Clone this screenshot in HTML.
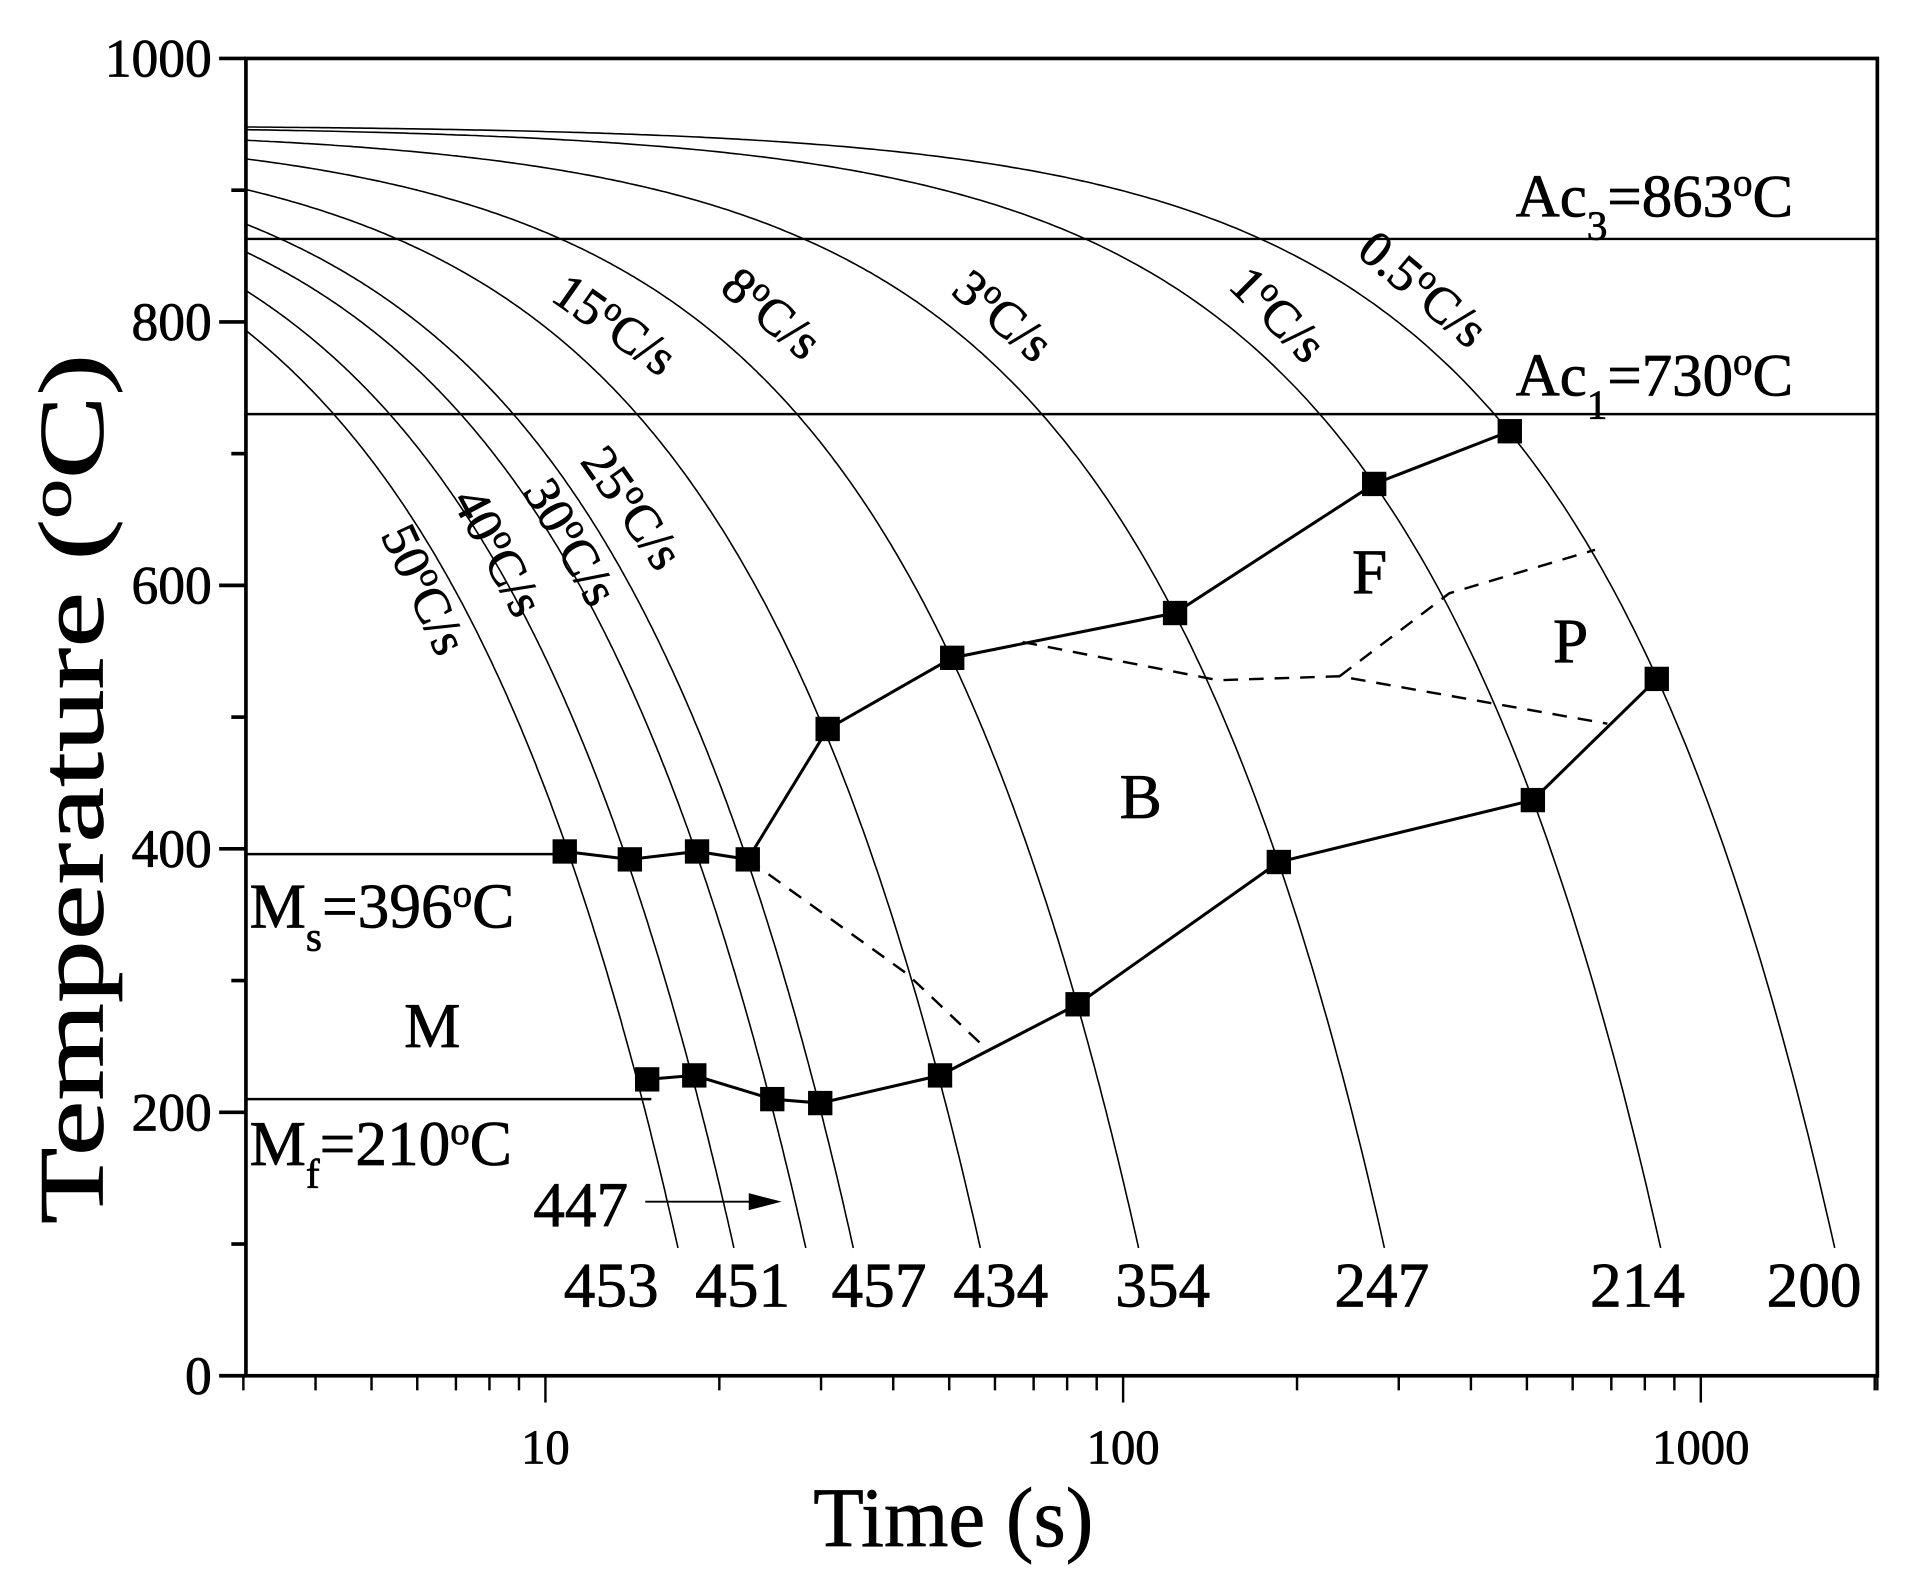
<!DOCTYPE html>
<html><head><meta charset="utf-8"><style>
html,body{margin:0;padding:0;background:#fff}
svg{display:block}
text{font-family:"Liberation Serif",serif;fill:#000;stroke:#000;stroke-width:0.6}
</style></head><body>
<svg id="chart" width="1909" height="1587" viewBox="0 0 1568 1303.5" xmlns="http://www.w3.org/2000/svg">
<g id="g"></g>
</svg>
<script>
const rates = [0.5, 1, 3, 8, 15, 25, 30, 40, 50];
const startTemps = [948, 946, 938, 924, 901, 875, 854, 825, 795];
const upperTimes = [10.8, 14.0, 18.3, 22.4, 30.8, 50.6, 123, 272, 467];
const upperTemps = [398, 392, 398, 392, 491, 545, 579, 677, 717];
const lowerTimes = [15.0, 18.1, 24.7, 29.9, 48.2, 83.4, 186, 512, 839];
const lowerTemps = [225, 228, 210, 207, 228, 282, 390, 437, 529];
const dashMTimes = [22.4, 42.3, 58];
const dashMTemps = [392, 305, 248];
const dashFTimes = [67, 146, 237, 689];
const dashFTemps = [557, 528, 531, 495];
const dashPTimes = [237, 367, 656];
const dashPTemps = [531, 594, 627];
const yTicks = [0, 200, 400, 600, 800, 1000];
const xTicks = [10, 100, 1000];
const endLabels = ["453","451","457","434","354","247","214","200"];

const NS="http://www.w3.org/2000/svg", g=document.getElementById('g');
const L=202,R=1542,T=48,B=1130;
const xs=t=>448+474.5*(Math.log10(t)-1);
const ys=v=>B-(B-T)*v/1000;
function mk(tag,attrs,parent){const e=document.createElementNS(NS,tag);for(const k in attrs)e.setAttribute(k,attrs[k]);(parent||g).appendChild(e);return e;}
function txt(s,x,y,size,extra){const e=mk('text',Object.assign({x:x,y:y,'font-size':size},extra||{}));e.innerHTML=s;return e;}

const defs=mk('defs',{});const cp=mk('clipPath',{id:'cp'},defs);mk('rect',{x:L,y:T,width:R-L,height:B-T},cp);

rates.forEach((r,i)=>{
  let pts=[];const tEnd=3+(startTemps[i]-97)/r;
  for(let k=0;k<=300;k++){const t=3*Math.pow(tEnd/3,k/300);const v=startTemps[i]-r*(t-3);pts.push(xs(t).toFixed(1)+','+ys(v).toFixed(1));}
  const p=mk('polyline',{points:pts.join(' '),fill:'none',stroke:'#000','stroke-width':1.3,'clip-path':'url(#cp)'});
  
  
});

[[863,L,R,'ac3-line'],[730,L,R,'ac1-line'],[396,L,455,'ms-line'],[210,L,535,'mf-line']].forEach(a=>{
  const l=mk('line',{x1:a[1],x2:a[2],y1:ys(a[0]),y2:ys(a[0]),stroke:'#000','stroke-width':2});
  
  
});

[[dashMTimes,dashMTemps,'m-b-boundary'],[dashFTimes,dashFTemps,'f-b-boundary'],[dashPTimes,dashPTemps,'f-p-boundary']].forEach(d=>{
  const l=mk('polyline',{points:d[0].map((t,i)=>xs(t)+','+ys(d[1][i])).join(' '),fill:'none',stroke:'#000','stroke-width':2,'stroke-dasharray':'12,9'});
  
  
});

[[upperTimes,upperTemps,'start'],[lowerTimes,lowerTemps,'finish']].forEach(d=>{
  const l=mk('polyline',{points:d[0].map((t,i)=>xs(t)+','+ys(d[1][i])).join(' '),fill:'none',stroke:'#000','stroke-width':2.5});
  
  
  d[0].forEach((t,i)=>{
    const s=mk('rect',{x:xs(t)-10,y:ys(d[1][i])-10,width:20,height:20,fill:'#000'});
    
    
  });
});

mk('rect',{x:L,y:T,width:R-L,height:B-T,fill:'none',stroke:'#000','stroke-width':3,});
for(let v=0;v<=1000;v+=100){const maj=v%200===0;mk('line',{x1:L-(maj?22:12),x2:L,y1:ys(v),y2:ys(v),stroke:'#000','stroke-width':3});}
yTicks.forEach(v=>{const e=txt(String(v),L-28,ys(v)+15,44,{'text-anchor':'end'});
  
  });
for(let d=0;d<4;d++)for(let m=1;m<10;m++){const t=m*Math.pow(10,d);if(t<3||t>2020)continue;mk('line',{x1:xs(t),x2:xs(t),y1:B,y2:B+(m===1?22:12),stroke:'#000','stroke-width':2});}
mk('line',{x1:R,x2:R,y1:B,y2:B+12,stroke:'#000','stroke-width':2});
xTicks.forEach(t=>{const e=txt(String(t),xs(t),B+72,40,{'text-anchor':'middle'});
  
  });

txt('Time (s)',783,1270,70,{'text-anchor':'middle',textLength:230,lengthAdjust:'spacingAndGlyphs',});
txt('Temperature (<tspan baseline-shift="super" font-size="48">o</tspan>C)',0,0,76,{'text-anchor':'middle',textLength:715,lengthAdjust:'spacingAndGlyphs',transform:'translate(84,648) rotate(-90)',});

txt('Ac<tspan baseline-shift="sub" font-size="34">3</tspan>=863<tspan baseline-shift="super" font-size="32">o</tspan>C',1245,178,50,{});
txt('Ac<tspan baseline-shift="sub" font-size="34">1</tspan>=730<tspan baseline-shift="super" font-size="32">o</tspan>C',1245,325,50,{});
txt('M<tspan baseline-shift="sub" font-size="34">s</tspan>=396<tspan baseline-shift="super" font-size="32">o</tspan>C',205,762,52,{});
txt('M<tspan baseline-shift="sub" font-size="34">f</tspan>=210<tspan baseline-shift="super" font-size="32">o</tspan>C',205,957,52,{});

[['M',355,860],['B',937,672],['F',1125,487],['P',1290,544]].forEach(a=>{
  const e=txt(a[0],a[1],a[2],52,{'text-anchor':'middle'});
  
  
});

[['0.5',1160,248,40],['1',1040,268,45],['3',815,270,40],['8',625,268,40],['15',497,278,35],['25',508,425,55],['30',457,452,60],['40',397,460,62],['50',336,490,65]].forEach(a=>{
  const e=txt(a[0]+'<tspan baseline-shift="super" font-size="28">o</tspan>C/s',0,0,42,{'text-anchor':'middle',transform:'translate('+a[1]+','+a[2]+') rotate('+a[3]+')'});
  
  
});

const endX=[502,610,722,822,955,1135,1345,1490];
endLabels.forEach((s,i)=>{const e=txt(s,endX[i],1073,52,{'text-anchor':'middle'});
  
  });
txt('447',477,1007,52,{'text-anchor':'middle',});
mk('line',{x1:530,x2:622,y1:987,y2:987,stroke:'#000','stroke-width':1.5,});
mk('polygon',{points:'615,980 642,987 615,994',fill:'#000',});
</script>
</body></html>
